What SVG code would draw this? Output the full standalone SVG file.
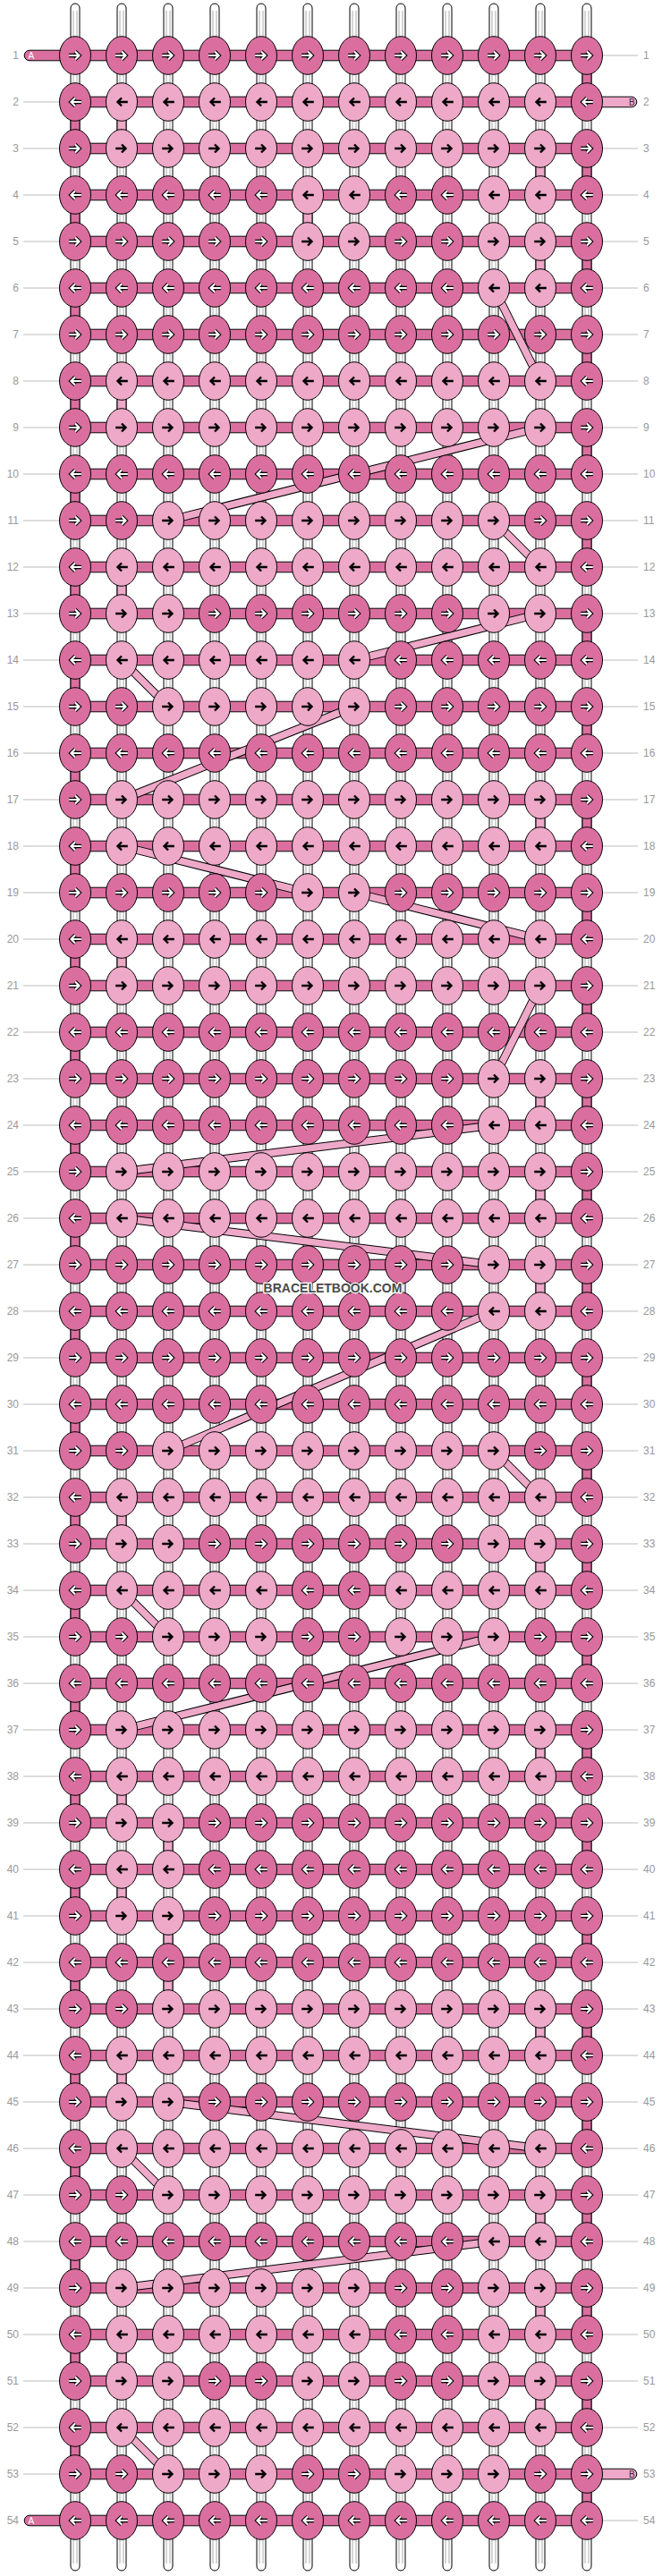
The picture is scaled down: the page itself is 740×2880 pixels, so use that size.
<svg xmlns="http://www.w3.org/2000/svg" xmlns:xlink="http://www.w3.org/1999/xlink" width="740" height="2880" viewBox="0 0 740 2880">
<style>
.lb{font-family:"Liberation Sans",Arial,sans-serif;font-size:12px;fill:#999}
.ll{stroke:#bbb;stroke-width:1;fill:none}
.st{fill:#fff;stroke:#000;stroke-width:1}
.sg{stroke:#aaa;stroke-width:1;fill:none}
.sd{fill:#DA6F9F;stroke:#000;stroke-width:1}
.sl{fill:#EEA8C8;stroke:#000;stroke-width:1}
.d{fill:#DA6F9F;stroke:#000;stroke-width:1}
.l{fill:#EEA8C8;stroke:#000;stroke-width:1}
.ao{stroke:#000;stroke-width:4.4;fill:none}
.aw{stroke:#fff;stroke-width:2.2;fill:none}
.ab{stroke:#000;stroke-width:2.4;fill:none}
.dgo{stroke:#000;stroke-width:9.5;fill:none}
.dgi{stroke:#EEA8C8;stroke-width:7.5;fill:none}
.tl{font-family:"Liberation Sans",Arial,sans-serif;font-size:10px}
.wm{font-family:"Liberation Sans",Arial,sans-serif;font-size:14px;font-weight:bold;fill:#4a4a4a;stroke:#fff;stroke-width:2.5;paint-order:stroke;stroke-linejoin:round}
</style>
<defs>
<path id="ar" d="M-6.8,0H4M0,-4.5L4.5,0L0,4.5"/>
<g id="DR"><ellipse class="d" rx="17.5" ry="21.3"/><use href="#ar" class="ao"/><use href="#ar" class="aw"/></g>
<g id="LR"><ellipse class="l" rx="17.5" ry="21.3"/><use href="#ar" class="ab"/></g>
<g id="DL"><ellipse class="d" rx="17.5" ry="21.3"/><g transform="scale(-1,1)"><use href="#ar" class="ao"/><use href="#ar" class="aw"/></g></g>
<g id="LL"><ellipse class="l" rx="17.5" ry="21.3"/><use href="#ar" class="ab" transform="scale(-1,1)"/></g>
<path id="dg" d="M552,322L604,426M604,478L188,582M552,582L604,634M604,686L396,738M136,738L188,790M396,790L136,894M136,946L344,998M396,998L604,1050M604,1102L552,1206M552,1258L136,1310M136,1362L552,1414M552,1466L188,1622M552,1622L604,1674M136,1778L188,1830M552,1830L136,1934M188,2350L604,2402M136,2402L188,2454M552,2506L136,2558M136,2714L188,2766"/>
</defs>
<rect width="740" height="2880" fill="#fff"/>
<g id="labels">
<path class="ll" d="M26,114H66M26,166H66M26,218H66M26,270H66M26,322H66M26,374H66M26,426H66M26,478H66M26,530H66M26,582H66M26,634H66M26,686H66M26,738H66M26,790H66M26,842H66M26,894H66M26,946H66M26,998H66M26,1050H66M26,1102H66M26,1154H66M26,1206H66M26,1258H66M26,1310H66M26,1362H66M26,1414H66M26,1466H66M26,1518H66M26,1570H66M26,1622H66M26,1674H66M26,1726H66M26,1778H66M26,1830H66M26,1882H66M26,1934H66M26,1986H66M26,2038H66M26,2090H66M26,2142H66M26,2194H66M26,2246H66M26,2298H66M26,2350H66M26,2402H66M26,2454H66M26,2506H66M26,2558H66M26,2610H66M26,2662H66M26,2714H66M26,2766H66"/>
<path class="ll" d="M674,62H713M674,166H713M674,218H713M674,270H713M674,322H713M674,374H713M674,426H713M674,478H713M674,530H713M674,582H713M674,634H713M674,686H713M674,738H713M674,790H713M674,842H713M674,894H713M674,946H713M674,998H713M674,1050H713M674,1102H713M674,1154H713M674,1206H713M674,1258H713M674,1310H713M674,1362H713M674,1414H713M674,1466H713M674,1518H713M674,1570H713M674,1622H713M674,1674H713M674,1726H713M674,1778H713M674,1830H713M674,1882H713M674,1934H713M674,1986H713M674,2038H713M674,2090H713M674,2142H713M674,2194H713M674,2246H713M674,2298H713M674,2350H713M674,2402H713M674,2454H713M674,2506H713M674,2558H713M674,2610H713M674,2662H713M674,2714H713M674,2818H713"/>
<g class="lb" text-anchor="end">
<text x="21" y="66">1</text><text x="21" y="118">2</text><text x="21" y="170">3</text><text x="21" y="222">4</text><text x="21" y="274">5</text><text x="21" y="326">6</text><text x="21" y="378">7</text><text x="21" y="430">8</text><text x="21" y="482">9</text><text x="21" y="534">10</text><text x="21" y="586">11</text><text x="21" y="638">12</text><text x="21" y="690">13</text><text x="21" y="742">14</text><text x="21" y="794">15</text><text x="21" y="846">16</text><text x="21" y="898">17</text><text x="21" y="950">18</text><text x="21" y="1002">19</text><text x="21" y="1054">20</text><text x="21" y="1106">21</text><text x="21" y="1158">22</text><text x="21" y="1210">23</text><text x="21" y="1262">24</text><text x="21" y="1314">25</text><text x="21" y="1366">26</text><text x="21" y="1418">27</text><text x="21" y="1470">28</text><text x="21" y="1522">29</text><text x="21" y="1574">30</text><text x="21" y="1626">31</text><text x="21" y="1678">32</text><text x="21" y="1730">33</text><text x="21" y="1782">34</text><text x="21" y="1834">35</text><text x="21" y="1886">36</text><text x="21" y="1938">37</text><text x="21" y="1990">38</text><text x="21" y="2042">39</text><text x="21" y="2094">40</text><text x="21" y="2146">41</text><text x="21" y="2198">42</text><text x="21" y="2250">43</text><text x="21" y="2302">44</text><text x="21" y="2354">45</text><text x="21" y="2406">46</text><text x="21" y="2458">47</text><text x="21" y="2510">48</text><text x="21" y="2562">49</text><text x="21" y="2614">50</text><text x="21" y="2666">51</text><text x="21" y="2718">52</text><text x="21" y="2770">53</text><text x="21" y="2822">54</text>
</g>
<g class="lb">
<text x="719" y="66">1</text><text x="719" y="118">2</text><text x="719" y="170">3</text><text x="719" y="222">4</text><text x="719" y="274">5</text><text x="719" y="326">6</text><text x="719" y="378">7</text><text x="719" y="430">8</text><text x="719" y="482">9</text><text x="719" y="534">10</text><text x="719" y="586">11</text><text x="719" y="638">12</text><text x="719" y="690">13</text><text x="719" y="742">14</text><text x="719" y="794">15</text><text x="719" y="846">16</text><text x="719" y="898">17</text><text x="719" y="950">18</text><text x="719" y="1002">19</text><text x="719" y="1054">20</text><text x="719" y="1106">21</text><text x="719" y="1158">22</text><text x="719" y="1210">23</text><text x="719" y="1262">24</text><text x="719" y="1314">25</text><text x="719" y="1366">26</text><text x="719" y="1418">27</text><text x="719" y="1470">28</text><text x="719" y="1522">29</text><text x="719" y="1574">30</text><text x="719" y="1626">31</text><text x="719" y="1678">32</text><text x="719" y="1730">33</text><text x="719" y="1782">34</text><text x="719" y="1834">35</text><text x="719" y="1886">36</text><text x="719" y="1938">37</text><text x="719" y="1990">38</text><text x="719" y="2042">39</text><text x="719" y="2094">40</text><text x="719" y="2146">41</text><text x="719" y="2198">42</text><text x="719" y="2250">43</text><text x="719" y="2302">44</text><text x="719" y="2354">45</text><text x="719" y="2406">46</text><text x="719" y="2458">47</text><text x="719" y="2510">48</text><text x="719" y="2562">49</text><text x="719" y="2614">50</text><text x="719" y="2666">51</text><text x="719" y="2718">52</text><text x="719" y="2770">53</text><text x="719" y="2822">54</text>
</g>
</g>
<g id="connectors">
<g id="base-strands">
<rect class="st" x="79" y="4" width="10" height="2870" rx="5"/><rect class="st" x="131" y="4" width="10" height="2870" rx="5"/><rect class="st" x="183" y="4" width="10" height="2870" rx="5"/><rect class="st" x="235" y="4" width="10" height="2870" rx="5"/><rect class="st" x="287" y="4" width="10" height="2870" rx="5"/><rect class="st" x="339" y="4" width="10" height="2870" rx="5"/><rect class="st" x="391" y="4" width="10" height="2870" rx="5"/><rect class="st" x="443" y="4" width="10" height="2870" rx="5"/><rect class="st" x="495" y="4" width="10" height="2870" rx="5"/><rect class="st" x="547" y="4" width="10" height="2870" rx="5"/><rect class="st" x="599" y="4" width="10" height="2870" rx="5"/><rect class="st" x="651" y="4" width="10" height="2870" rx="5"/>
<path class="sg" d="M82,12V2866M86,12V2866M134,12V2866M138,12V2866M186,12V2866M190,12V2866M238,12V2866M242,12V2866M290,12V2866M294,12V2866M342,12V2866M346,12V2866M394,12V2866M398,12V2866M446,12V2866M450,12V2866M498,12V2866M502,12V2866M550,12V2866M554,12V2866M602,12V2866M606,12V2866M654,12V2866M658,12V2866"/>
</g>
<g id="turns">
<path class="sd" d="M79,133h10v14h-10zM79,237h10v14h-10zM79,341h10v14h-10zM79,445h10v14h-10zM79,549h10v14h-10zM79,653h10v14h-10zM79,757h10v14h-10zM79,861h10v14h-10zM79,965h10v14h-10zM79,1069h10v14h-10zM79,1173h10v14h-10zM79,1277h10v14h-10zM79,1381h10v14h-10zM79,1485h10v14h-10zM79,1589h10v14h-10zM79,1693h10v14h-10zM79,1797h10v14h-10zM79,1901h10v14h-10zM79,2005h10v14h-10zM79,2109h10v14h-10zM79,2213h10v14h-10zM79,2317h10v14h-10zM79,2421h10v14h-10zM79,2525h10v14h-10zM79,2629h10v14h-10zM79,2733h10v14h-10z"/>
<path class="sd" d="M651,81h10v14h-10zM651,185h10v14h-10zM651,289h10v14h-10zM651,393h10v14h-10zM651,497h10v14h-10zM651,601h10v14h-10zM651,705h10v14h-10zM651,809h10v14h-10zM651,913h10v14h-10zM651,1017h10v14h-10zM651,1121h10v14h-10zM651,1225h10v14h-10zM651,1329h10v14h-10zM651,1433h10v14h-10zM651,1537h10v14h-10zM651,1641h10v14h-10zM651,1745h10v14h-10zM651,1849h10v14h-10zM651,1953h10v14h-10zM651,2057h10v14h-10zM651,2161h10v14h-10zM651,2265h10v14h-10zM651,2369h10v14h-10zM651,2473h10v14h-10zM651,2577h10v14h-10zM651,2681h10v14h-10zM651,2785h10v14h-10z"/>
<path class="sl" d="M131,133h10v14h-10zM599,185h10v14h-10zM339,237h10v14h-10zM599,289h10v14h-10zM131,445h10v14h-10zM131,653h10v14h-10zM599,913h10v14h-10zM131,1069h10v14h-10zM599,1225h10v14h-10zM599,1329h10v14h-10zM599,1433h10v14h-10zM131,1693h10v14h-10zM599,1745h10v14h-10zM599,1953h10v14h-10zM131,2005h10v14h-10zM183,2057h10v14h-10zM131,2109h10v14h-10zM183,2161h10v14h-10zM183,2213h10v14h-10zM599,2265h10v14h-10zM131,2317h10v14h-10zM599,2473h10v14h-10zM599,2577h10v14h-10zM131,2629h10v14h-10zM599,2681h10v14h-10z"/>
</g>
<g id="rows">
<path class="sd" d="M84,56.2h572v11.6h-572zM84,108.2h572v11.6h-572zM84,160.2h572v11.6h-572zM84,212.2h572v11.6h-572zM84,264.2h572v11.6h-572zM84,316.2h572v11.6h-572zM84,368.2h572v11.6h-572zM84,420.2h572v11.6h-572zM84,472.2h572v11.6h-572zM84,524.2h572v11.6h-572zM84,576.2h572v11.6h-572zM84,628.2h572v11.6h-572zM84,680.2h572v11.6h-572zM84,732.2h572v11.6h-572zM84,784.2h572v11.6h-572zM84,836.2h572v11.6h-572zM84,888.2h572v11.6h-572zM84,940.2h572v11.6h-572zM84,992.2h572v11.6h-572zM84,1044.2h572v11.6h-572zM84,1096.2h572v11.6h-572zM84,1148.2h572v11.6h-572zM84,1200.2h572v11.6h-572zM84,1252.2h572v11.6h-572zM84,1304.2h572v11.6h-572zM84,1356.2h572v11.6h-572zM84,1408.2h572v11.6h-572zM84,1460.2h572v11.6h-572zM84,1512.2h572v11.6h-572zM84,1564.2h572v11.6h-572zM84,1616.2h572v11.6h-572zM84,1668.2h572v11.6h-572zM84,1720.2h572v11.6h-572zM84,1772.2h572v11.6h-572zM84,1824.2h572v11.6h-572zM84,1876.2h572v11.6h-572zM84,1928.2h572v11.6h-572zM84,1980.2h572v11.6h-572zM84,2032.2h572v11.6h-572zM84,2084.2h572v11.6h-572zM84,2136.2h572v11.6h-572zM84,2188.2h572v11.6h-572zM84,2240.2h572v11.6h-572zM84,2292.2h572v11.6h-572zM84,2344.2h572v11.6h-572zM84,2396.2h572v11.6h-572zM84,2448.2h572v11.6h-572zM84,2500.2h572v11.6h-572zM84,2552.2h572v11.6h-572zM84,2604.2h572v11.6h-572zM84,2656.2h572v11.6h-572zM84,2708.2h572v11.6h-572zM84,2760.2h572v11.6h-572zM84,2812.2h572v11.6h-572z"/>
</g>
<g id="carries">
<use href="#dg" class="dgo"/><use href="#dg" class="dgi"/>
</g>
<g id="tails">
<path class="sd" d="M75,56.2H33a5.8,5.8 0 0 0 0,11.6H75z"/>
<text class="tl" x="31.5" y="66" fill="#fff">A</text>
<path class="sd" d="M75,2812.2H33a5.8,5.8 0 0 0 0,11.6H75z"/>
<text class="tl" x="31.5" y="2822" fill="#fff">A</text>
<path class="sl" d="M665,108.2H706a5.8,5.8 0 0 1 0,11.6H665z"/>
<text class="tl" x="703" y="118" fill="#333">B</text>
<path class="sl" d="M665,2760.2H706a5.8,5.8 0 0 1 0,11.6H665z"/>
<text class="tl" x="703" y="2770" fill="#333">B</text>
</g>
</g>
<g id="knots">
<g id="row1" transform="translate(0,62)"><g id="k1-1"><use href="#DR" x="84"/></g><g id="k1-2"><use href="#DR" x="136"/></g><g id="k1-3"><use href="#DR" x="188"/></g><g id="k1-4"><use href="#DR" x="240"/></g><g id="k1-5"><use href="#DR" x="292"/></g><g id="k1-6"><use href="#DR" x="344"/></g><g id="k1-7"><use href="#DR" x="396"/></g><g id="k1-8"><use href="#DR" x="448"/></g><g id="k1-9"><use href="#DR" x="500"/></g><g id="k1-10"><use href="#DR" x="552"/></g><g id="k1-11"><use href="#DR" x="604"/></g><g id="k1-12"><use href="#DR" x="656"/></g></g>
<g id="row2" transform="translate(0,114)"><g id="k2-1"><use href="#DL" x="84"/></g><g id="k2-2"><use href="#LL" x="136"/></g><g id="k2-3"><use href="#LL" x="188"/></g><g id="k2-4"><use href="#LL" x="240"/></g><g id="k2-5"><use href="#LL" x="292"/></g><g id="k2-6"><use href="#LL" x="344"/></g><g id="k2-7"><use href="#LL" x="396"/></g><g id="k2-8"><use href="#LL" x="448"/></g><g id="k2-9"><use href="#LL" x="500"/></g><g id="k2-10"><use href="#LL" x="552"/></g><g id="k2-11"><use href="#LL" x="604"/></g><g id="k2-12"><use href="#DL" x="656"/></g></g>
<g id="row3" transform="translate(0,166)"><g id="k3-1"><use href="#DR" x="84"/></g><g id="k3-2"><use href="#LR" x="136"/></g><g id="k3-3"><use href="#LR" x="188"/></g><g id="k3-4"><use href="#LR" x="240"/></g><g id="k3-5"><use href="#LR" x="292"/></g><g id="k3-6"><use href="#LR" x="344"/></g><g id="k3-7"><use href="#LR" x="396"/></g><g id="k3-8"><use href="#LR" x="448"/></g><g id="k3-9"><use href="#LR" x="500"/></g><g id="k3-10"><use href="#LR" x="552"/></g><g id="k3-11"><use href="#LR" x="604"/></g><g id="k3-12"><use href="#DR" x="656"/></g></g>
<g id="row4" transform="translate(0,218)"><g id="k4-1"><use href="#DL" x="84"/></g><g id="k4-2"><use href="#DL" x="136"/></g><g id="k4-3"><use href="#DL" x="188"/></g><g id="k4-4"><use href="#DL" x="240"/></g><g id="k4-5"><use href="#DL" x="292"/></g><g id="k4-6"><use href="#LL" x="344"/></g><g id="k4-7"><use href="#LL" x="396"/></g><g id="k4-8"><use href="#DL" x="448"/></g><g id="k4-9"><use href="#DL" x="500"/></g><g id="k4-10"><use href="#LL" x="552"/></g><g id="k4-11"><use href="#LL" x="604"/></g><g id="k4-12"><use href="#DL" x="656"/></g></g>
<g id="row5" transform="translate(0,270)"><g id="k5-1"><use href="#DR" x="84"/></g><g id="k5-2"><use href="#DR" x="136"/></g><g id="k5-3"><use href="#DR" x="188"/></g><g id="k5-4"><use href="#DR" x="240"/></g><g id="k5-5"><use href="#DR" x="292"/></g><g id="k5-6"><use href="#LR" x="344"/></g><g id="k5-7"><use href="#LR" x="396"/></g><g id="k5-8"><use href="#DR" x="448"/></g><g id="k5-9"><use href="#DR" x="500"/></g><g id="k5-10"><use href="#LR" x="552"/></g><g id="k5-11"><use href="#LR" x="604"/></g><g id="k5-12"><use href="#DR" x="656"/></g></g>
<g id="row6" transform="translate(0,322)"><g id="k6-1"><use href="#DL" x="84"/></g><g id="k6-2"><use href="#DL" x="136"/></g><g id="k6-3"><use href="#DL" x="188"/></g><g id="k6-4"><use href="#DL" x="240"/></g><g id="k6-5"><use href="#DL" x="292"/></g><g id="k6-6"><use href="#DL" x="344"/></g><g id="k6-7"><use href="#DL" x="396"/></g><g id="k6-8"><use href="#DL" x="448"/></g><g id="k6-9"><use href="#DL" x="500"/></g><g id="k6-10"><use href="#LL" x="552"/></g><g id="k6-11"><use href="#LL" x="604"/></g><g id="k6-12"><use href="#DL" x="656"/></g></g>
<g id="row7" transform="translate(0,374)"><g id="k7-1"><use href="#DR" x="84"/></g><g id="k7-2"><use href="#DR" x="136"/></g><g id="k7-3"><use href="#DR" x="188"/></g><g id="k7-4"><use href="#DR" x="240"/></g><g id="k7-5"><use href="#DR" x="292"/></g><g id="k7-6"><use href="#DR" x="344"/></g><g id="k7-7"><use href="#DR" x="396"/></g><g id="k7-8"><use href="#DR" x="448"/></g><g id="k7-9"><use href="#DR" x="500"/></g><g id="k7-10"><use href="#DR" x="552"/></g><g id="k7-11"><use href="#DR" x="604"/></g><g id="k7-12"><use href="#DR" x="656"/></g></g>
<g id="row8" transform="translate(0,426)"><g id="k8-1"><use href="#DL" x="84"/></g><g id="k8-2"><use href="#LL" x="136"/></g><g id="k8-3"><use href="#LL" x="188"/></g><g id="k8-4"><use href="#LL" x="240"/></g><g id="k8-5"><use href="#LL" x="292"/></g><g id="k8-6"><use href="#LL" x="344"/></g><g id="k8-7"><use href="#LL" x="396"/></g><g id="k8-8"><use href="#LL" x="448"/></g><g id="k8-9"><use href="#LL" x="500"/></g><g id="k8-10"><use href="#LL" x="552"/></g><g id="k8-11"><use href="#LL" x="604"/></g><g id="k8-12"><use href="#DL" x="656"/></g></g>
<g id="row9" transform="translate(0,478)"><g id="k9-1"><use href="#DR" x="84"/></g><g id="k9-2"><use href="#LR" x="136"/></g><g id="k9-3"><use href="#LR" x="188"/></g><g id="k9-4"><use href="#LR" x="240"/></g><g id="k9-5"><use href="#LR" x="292"/></g><g id="k9-6"><use href="#LR" x="344"/></g><g id="k9-7"><use href="#LR" x="396"/></g><g id="k9-8"><use href="#LR" x="448"/></g><g id="k9-9"><use href="#LR" x="500"/></g><g id="k9-10"><use href="#LR" x="552"/></g><g id="k9-11"><use href="#LR" x="604"/></g><g id="k9-12"><use href="#DR" x="656"/></g></g>
<g id="row10" transform="translate(0,530)"><g id="k10-1"><use href="#DL" x="84"/></g><g id="k10-2"><use href="#DL" x="136"/></g><g id="k10-3"><use href="#DL" x="188"/></g><g id="k10-4"><use href="#DL" x="240"/></g><g id="k10-5"><use href="#DL" x="292"/></g><g id="k10-6"><use href="#DL" x="344"/></g><g id="k10-7"><use href="#DL" x="396"/></g><g id="k10-8"><use href="#DL" x="448"/></g><g id="k10-9"><use href="#DL" x="500"/></g><g id="k10-10"><use href="#DL" x="552"/></g><g id="k10-11"><use href="#DL" x="604"/></g><g id="k10-12"><use href="#DL" x="656"/></g></g>
<g id="row11" transform="translate(0,582)"><g id="k11-1"><use href="#DR" x="84"/></g><g id="k11-2"><use href="#DR" x="136"/></g><g id="k11-3"><use href="#LR" x="188"/></g><g id="k11-4"><use href="#LR" x="240"/></g><g id="k11-5"><use href="#LR" x="292"/></g><g id="k11-6"><use href="#LR" x="344"/></g><g id="k11-7"><use href="#LR" x="396"/></g><g id="k11-8"><use href="#LR" x="448"/></g><g id="k11-9"><use href="#LR" x="500"/></g><g id="k11-10"><use href="#LR" x="552"/></g><g id="k11-11"><use href="#DR" x="604"/></g><g id="k11-12"><use href="#DR" x="656"/></g></g>
<g id="row12" transform="translate(0,634)"><g id="k12-1"><use href="#DL" x="84"/></g><g id="k12-2"><use href="#LL" x="136"/></g><g id="k12-3"><use href="#LL" x="188"/></g><g id="k12-4"><use href="#LL" x="240"/></g><g id="k12-5"><use href="#LL" x="292"/></g><g id="k12-6"><use href="#LL" x="344"/></g><g id="k12-7"><use href="#LL" x="396"/></g><g id="k12-8"><use href="#LL" x="448"/></g><g id="k12-9"><use href="#LL" x="500"/></g><g id="k12-10"><use href="#LL" x="552"/></g><g id="k12-11"><use href="#LL" x="604"/></g><g id="k12-12"><use href="#DL" x="656"/></g></g>
<g id="row13" transform="translate(0,686)"><g id="k13-1"><use href="#DR" x="84"/></g><g id="k13-2"><use href="#LR" x="136"/></g><g id="k13-3"><use href="#LR" x="188"/></g><g id="k13-4"><use href="#DR" x="240"/></g><g id="k13-5"><use href="#DR" x="292"/></g><g id="k13-6"><use href="#DR" x="344"/></g><g id="k13-7"><use href="#DR" x="396"/></g><g id="k13-8"><use href="#DR" x="448"/></g><g id="k13-9"><use href="#DR" x="500"/></g><g id="k13-10"><use href="#LR" x="552"/></g><g id="k13-11"><use href="#LR" x="604"/></g><g id="k13-12"><use href="#DR" x="656"/></g></g>
<g id="row14" transform="translate(0,738)"><g id="k14-1"><use href="#DL" x="84"/></g><g id="k14-2"><use href="#LL" x="136"/></g><g id="k14-3"><use href="#LL" x="188"/></g><g id="k14-4"><use href="#LL" x="240"/></g><g id="k14-5"><use href="#LL" x="292"/></g><g id="k14-6"><use href="#LL" x="344"/></g><g id="k14-7"><use href="#LL" x="396"/></g><g id="k14-8"><use href="#DL" x="448"/></g><g id="k14-9"><use href="#DL" x="500"/></g><g id="k14-10"><use href="#DL" x="552"/></g><g id="k14-11"><use href="#DL" x="604"/></g><g id="k14-12"><use href="#DL" x="656"/></g></g>
<g id="row15" transform="translate(0,790)"><g id="k15-1"><use href="#DR" x="84"/></g><g id="k15-2"><use href="#DR" x="136"/></g><g id="k15-3"><use href="#LR" x="188"/></g><g id="k15-4"><use href="#LR" x="240"/></g><g id="k15-5"><use href="#LR" x="292"/></g><g id="k15-6"><use href="#LR" x="344"/></g><g id="k15-7"><use href="#LR" x="396"/></g><g id="k15-8"><use href="#DR" x="448"/></g><g id="k15-9"><use href="#DR" x="500"/></g><g id="k15-10"><use href="#DR" x="552"/></g><g id="k15-11"><use href="#DR" x="604"/></g><g id="k15-12"><use href="#DR" x="656"/></g></g>
<g id="row16" transform="translate(0,842)"><g id="k16-1"><use href="#DL" x="84"/></g><g id="k16-2"><use href="#DL" x="136"/></g><g id="k16-3"><use href="#DL" x="188"/></g><g id="k16-4"><use href="#DL" x="240"/></g><g id="k16-5"><use href="#DL" x="292"/></g><g id="k16-6"><use href="#DL" x="344"/></g><g id="k16-7"><use href="#DL" x="396"/></g><g id="k16-8"><use href="#DL" x="448"/></g><g id="k16-9"><use href="#DL" x="500"/></g><g id="k16-10"><use href="#DL" x="552"/></g><g id="k16-11"><use href="#DL" x="604"/></g><g id="k16-12"><use href="#DL" x="656"/></g></g>
<g id="row17" transform="translate(0,894)"><g id="k17-1"><use href="#DR" x="84"/></g><g id="k17-2"><use href="#LR" x="136"/></g><g id="k17-3"><use href="#LR" x="188"/></g><g id="k17-4"><use href="#LR" x="240"/></g><g id="k17-5"><use href="#LR" x="292"/></g><g id="k17-6"><use href="#LR" x="344"/></g><g id="k17-7"><use href="#LR" x="396"/></g><g id="k17-8"><use href="#LR" x="448"/></g><g id="k17-9"><use href="#LR" x="500"/></g><g id="k17-10"><use href="#LR" x="552"/></g><g id="k17-11"><use href="#LR" x="604"/></g><g id="k17-12"><use href="#DR" x="656"/></g></g>
<g id="row18" transform="translate(0,946)"><g id="k18-1"><use href="#DL" x="84"/></g><g id="k18-2"><use href="#LL" x="136"/></g><g id="k18-3"><use href="#LL" x="188"/></g><g id="k18-4"><use href="#LL" x="240"/></g><g id="k18-5"><use href="#LL" x="292"/></g><g id="k18-6"><use href="#LL" x="344"/></g><g id="k18-7"><use href="#LL" x="396"/></g><g id="k18-8"><use href="#LL" x="448"/></g><g id="k18-9"><use href="#LL" x="500"/></g><g id="k18-10"><use href="#LL" x="552"/></g><g id="k18-11"><use href="#LL" x="604"/></g><g id="k18-12"><use href="#DL" x="656"/></g></g>
<g id="row19" transform="translate(0,998)"><g id="k19-1"><use href="#DR" x="84"/></g><g id="k19-2"><use href="#DR" x="136"/></g><g id="k19-3"><use href="#DR" x="188"/></g><g id="k19-4"><use href="#DR" x="240"/></g><g id="k19-5"><use href="#DR" x="292"/></g><g id="k19-6"><use href="#LR" x="344"/></g><g id="k19-7"><use href="#LR" x="396"/></g><g id="k19-8"><use href="#DR" x="448"/></g><g id="k19-9"><use href="#DR" x="500"/></g><g id="k19-10"><use href="#DR" x="552"/></g><g id="k19-11"><use href="#DR" x="604"/></g><g id="k19-12"><use href="#DR" x="656"/></g></g>
<g id="row20" transform="translate(0,1050)"><g id="k20-1"><use href="#DL" x="84"/></g><g id="k20-2"><use href="#LL" x="136"/></g><g id="k20-3"><use href="#LL" x="188"/></g><g id="k20-4"><use href="#LL" x="240"/></g><g id="k20-5"><use href="#LL" x="292"/></g><g id="k20-6"><use href="#LL" x="344"/></g><g id="k20-7"><use href="#LL" x="396"/></g><g id="k20-8"><use href="#LL" x="448"/></g><g id="k20-9"><use href="#LL" x="500"/></g><g id="k20-10"><use href="#LL" x="552"/></g><g id="k20-11"><use href="#LL" x="604"/></g><g id="k20-12"><use href="#DL" x="656"/></g></g>
<g id="row21" transform="translate(0,1102)"><g id="k21-1"><use href="#DR" x="84"/></g><g id="k21-2"><use href="#LR" x="136"/></g><g id="k21-3"><use href="#LR" x="188"/></g><g id="k21-4"><use href="#LR" x="240"/></g><g id="k21-5"><use href="#LR" x="292"/></g><g id="k21-6"><use href="#LR" x="344"/></g><g id="k21-7"><use href="#LR" x="396"/></g><g id="k21-8"><use href="#LR" x="448"/></g><g id="k21-9"><use href="#LR" x="500"/></g><g id="k21-10"><use href="#LR" x="552"/></g><g id="k21-11"><use href="#LR" x="604"/></g><g id="k21-12"><use href="#DR" x="656"/></g></g>
<g id="row22" transform="translate(0,1154)"><g id="k22-1"><use href="#DL" x="84"/></g><g id="k22-2"><use href="#DL" x="136"/></g><g id="k22-3"><use href="#DL" x="188"/></g><g id="k22-4"><use href="#DL" x="240"/></g><g id="k22-5"><use href="#DL" x="292"/></g><g id="k22-6"><use href="#DL" x="344"/></g><g id="k22-7"><use href="#DL" x="396"/></g><g id="k22-8"><use href="#DL" x="448"/></g><g id="k22-9"><use href="#DL" x="500"/></g><g id="k22-10"><use href="#DL" x="552"/></g><g id="k22-11"><use href="#DL" x="604"/></g><g id="k22-12"><use href="#DL" x="656"/></g></g>
<g id="row23" transform="translate(0,1206)"><g id="k23-1"><use href="#DR" x="84"/></g><g id="k23-2"><use href="#DR" x="136"/></g><g id="k23-3"><use href="#DR" x="188"/></g><g id="k23-4"><use href="#DR" x="240"/></g><g id="k23-5"><use href="#DR" x="292"/></g><g id="k23-6"><use href="#DR" x="344"/></g><g id="k23-7"><use href="#DR" x="396"/></g><g id="k23-8"><use href="#DR" x="448"/></g><g id="k23-9"><use href="#DR" x="500"/></g><g id="k23-10"><use href="#LR" x="552"/></g><g id="k23-11"><use href="#LR" x="604"/></g><g id="k23-12"><use href="#DR" x="656"/></g></g>
<g id="row24" transform="translate(0,1258)"><g id="k24-1"><use href="#DL" x="84"/></g><g id="k24-2"><use href="#DL" x="136"/></g><g id="k24-3"><use href="#DL" x="188"/></g><g id="k24-4"><use href="#DL" x="240"/></g><g id="k24-5"><use href="#DL" x="292"/></g><g id="k24-6"><use href="#DL" x="344"/></g><g id="k24-7"><use href="#DL" x="396"/></g><g id="k24-8"><use href="#DL" x="448"/></g><g id="k24-9"><use href="#DL" x="500"/></g><g id="k24-10"><use href="#LL" x="552"/></g><g id="k24-11"><use href="#LL" x="604"/></g><g id="k24-12"><use href="#DL" x="656"/></g></g>
<g id="row25" transform="translate(0,1310)"><g id="k25-1"><use href="#DR" x="84"/></g><g id="k25-2"><use href="#LR" x="136"/></g><g id="k25-3"><use href="#LR" x="188"/></g><g id="k25-4"><use href="#LR" x="240"/></g><g id="k25-5"><use href="#LR" x="292"/></g><g id="k25-6"><use href="#LR" x="344"/></g><g id="k25-7"><use href="#LR" x="396"/></g><g id="k25-8"><use href="#LR" x="448"/></g><g id="k25-9"><use href="#LR" x="500"/></g><g id="k25-10"><use href="#LR" x="552"/></g><g id="k25-11"><use href="#LR" x="604"/></g><g id="k25-12"><use href="#DR" x="656"/></g></g>
<g id="row26" transform="translate(0,1362)"><g id="k26-1"><use href="#DL" x="84"/></g><g id="k26-2"><use href="#LL" x="136"/></g><g id="k26-3"><use href="#LL" x="188"/></g><g id="k26-4"><use href="#LL" x="240"/></g><g id="k26-5"><use href="#LL" x="292"/></g><g id="k26-6"><use href="#LL" x="344"/></g><g id="k26-7"><use href="#LL" x="396"/></g><g id="k26-8"><use href="#LL" x="448"/></g><g id="k26-9"><use href="#LL" x="500"/></g><g id="k26-10"><use href="#LL" x="552"/></g><g id="k26-11"><use href="#LL" x="604"/></g><g id="k26-12"><use href="#DL" x="656"/></g></g>
<g id="row27" transform="translate(0,1414)"><g id="k27-1"><use href="#DR" x="84"/></g><g id="k27-2"><use href="#DR" x="136"/></g><g id="k27-3"><use href="#DR" x="188"/></g><g id="k27-4"><use href="#DR" x="240"/></g><g id="k27-5"><use href="#DR" x="292"/></g><g id="k27-6"><use href="#DR" x="344"/></g><g id="k27-7"><use href="#DR" x="396"/></g><g id="k27-8"><use href="#DR" x="448"/></g><g id="k27-9"><use href="#DR" x="500"/></g><g id="k27-10"><use href="#LR" x="552"/></g><g id="k27-11"><use href="#LR" x="604"/></g><g id="k27-12"><use href="#DR" x="656"/></g></g>
<g id="row28" transform="translate(0,1466)"><g id="k28-1"><use href="#DL" x="84"/></g><g id="k28-2"><use href="#DL" x="136"/></g><g id="k28-3"><use href="#DL" x="188"/></g><g id="k28-4"><use href="#DL" x="240"/></g><g id="k28-5"><use href="#DL" x="292"/></g><g id="k28-6"><use href="#DL" x="344"/></g><g id="k28-7"><use href="#DL" x="396"/></g><g id="k28-8"><use href="#DL" x="448"/></g><g id="k28-9"><use href="#DL" x="500"/></g><g id="k28-10"><use href="#LL" x="552"/></g><g id="k28-11"><use href="#LL" x="604"/></g><g id="k28-12"><use href="#DL" x="656"/></g></g>
<g id="row29" transform="translate(0,1518)"><g id="k29-1"><use href="#DR" x="84"/></g><g id="k29-2"><use href="#DR" x="136"/></g><g id="k29-3"><use href="#DR" x="188"/></g><g id="k29-4"><use href="#DR" x="240"/></g><g id="k29-5"><use href="#DR" x="292"/></g><g id="k29-6"><use href="#DR" x="344"/></g><g id="k29-7"><use href="#DR" x="396"/></g><g id="k29-8"><use href="#DR" x="448"/></g><g id="k29-9"><use href="#DR" x="500"/></g><g id="k29-10"><use href="#DR" x="552"/></g><g id="k29-11"><use href="#DR" x="604"/></g><g id="k29-12"><use href="#DR" x="656"/></g></g>
<g id="row30" transform="translate(0,1570)"><g id="k30-1"><use href="#DL" x="84"/></g><g id="k30-2"><use href="#DL" x="136"/></g><g id="k30-3"><use href="#DL" x="188"/></g><g id="k30-4"><use href="#DL" x="240"/></g><g id="k30-5"><use href="#DL" x="292"/></g><g id="k30-6"><use href="#DL" x="344"/></g><g id="k30-7"><use href="#DL" x="396"/></g><g id="k30-8"><use href="#DL" x="448"/></g><g id="k30-9"><use href="#DL" x="500"/></g><g id="k30-10"><use href="#DL" x="552"/></g><g id="k30-11"><use href="#DL" x="604"/></g><g id="k30-12"><use href="#DL" x="656"/></g></g>
<g id="row31" transform="translate(0,1622)"><g id="k31-1"><use href="#DR" x="84"/></g><g id="k31-2"><use href="#DR" x="136"/></g><g id="k31-3"><use href="#LR" x="188"/></g><g id="k31-4"><use href="#LR" x="240"/></g><g id="k31-5"><use href="#LR" x="292"/></g><g id="k31-6"><use href="#LR" x="344"/></g><g id="k31-7"><use href="#LR" x="396"/></g><g id="k31-8"><use href="#LR" x="448"/></g><g id="k31-9"><use href="#LR" x="500"/></g><g id="k31-10"><use href="#LR" x="552"/></g><g id="k31-11"><use href="#DR" x="604"/></g><g id="k31-12"><use href="#DR" x="656"/></g></g>
<g id="row32" transform="translate(0,1674)"><g id="k32-1"><use href="#DL" x="84"/></g><g id="k32-2"><use href="#LL" x="136"/></g><g id="k32-3"><use href="#LL" x="188"/></g><g id="k32-4"><use href="#LL" x="240"/></g><g id="k32-5"><use href="#LL" x="292"/></g><g id="k32-6"><use href="#LL" x="344"/></g><g id="k32-7"><use href="#LL" x="396"/></g><g id="k32-8"><use href="#LL" x="448"/></g><g id="k32-9"><use href="#LL" x="500"/></g><g id="k32-10"><use href="#LL" x="552"/></g><g id="k32-11"><use href="#LL" x="604"/></g><g id="k32-12"><use href="#DL" x="656"/></g></g>
<g id="row33" transform="translate(0,1726)"><g id="k33-1"><use href="#DR" x="84"/></g><g id="k33-2"><use href="#LR" x="136"/></g><g id="k33-3"><use href="#LR" x="188"/></g><g id="k33-4"><use href="#DR" x="240"/></g><g id="k33-5"><use href="#DR" x="292"/></g><g id="k33-6"><use href="#DR" x="344"/></g><g id="k33-7"><use href="#DR" x="396"/></g><g id="k33-8"><use href="#DR" x="448"/></g><g id="k33-9"><use href="#DR" x="500"/></g><g id="k33-10"><use href="#LR" x="552"/></g><g id="k33-11"><use href="#LR" x="604"/></g><g id="k33-12"><use href="#DR" x="656"/></g></g>
<g id="row34" transform="translate(0,1778)"><g id="k34-1"><use href="#DL" x="84"/></g><g id="k34-2"><use href="#LL" x="136"/></g><g id="k34-3"><use href="#LL" x="188"/></g><g id="k34-4"><use href="#LL" x="240"/></g><g id="k34-5"><use href="#LL" x="292"/></g><g id="k34-6"><use href="#DL" x="344"/></g><g id="k34-7"><use href="#DL" x="396"/></g><g id="k34-8"><use href="#LL" x="448"/></g><g id="k34-9"><use href="#LL" x="500"/></g><g id="k34-10"><use href="#LL" x="552"/></g><g id="k34-11"><use href="#LL" x="604"/></g><g id="k34-12"><use href="#DL" x="656"/></g></g>
<g id="row35" transform="translate(0,1830)"><g id="k35-1"><use href="#DR" x="84"/></g><g id="k35-2"><use href="#DR" x="136"/></g><g id="k35-3"><use href="#LR" x="188"/></g><g id="k35-4"><use href="#LR" x="240"/></g><g id="k35-5"><use href="#LR" x="292"/></g><g id="k35-6"><use href="#DR" x="344"/></g><g id="k35-7"><use href="#DR" x="396"/></g><g id="k35-8"><use href="#LR" x="448"/></g><g id="k35-9"><use href="#LR" x="500"/></g><g id="k35-10"><use href="#LR" x="552"/></g><g id="k35-11"><use href="#DR" x="604"/></g><g id="k35-12"><use href="#DR" x="656"/></g></g>
<g id="row36" transform="translate(0,1882)"><g id="k36-1"><use href="#DL" x="84"/></g><g id="k36-2"><use href="#DL" x="136"/></g><g id="k36-3"><use href="#DL" x="188"/></g><g id="k36-4"><use href="#DL" x="240"/></g><g id="k36-5"><use href="#DL" x="292"/></g><g id="k36-6"><use href="#DL" x="344"/></g><g id="k36-7"><use href="#DL" x="396"/></g><g id="k36-8"><use href="#DL" x="448"/></g><g id="k36-9"><use href="#DL" x="500"/></g><g id="k36-10"><use href="#DL" x="552"/></g><g id="k36-11"><use href="#DL" x="604"/></g><g id="k36-12"><use href="#DL" x="656"/></g></g>
<g id="row37" transform="translate(0,1934)"><g id="k37-1"><use href="#DR" x="84"/></g><g id="k37-2"><use href="#LR" x="136"/></g><g id="k37-3"><use href="#LR" x="188"/></g><g id="k37-4"><use href="#LR" x="240"/></g><g id="k37-5"><use href="#LR" x="292"/></g><g id="k37-6"><use href="#LR" x="344"/></g><g id="k37-7"><use href="#LR" x="396"/></g><g id="k37-8"><use href="#LR" x="448"/></g><g id="k37-9"><use href="#LR" x="500"/></g><g id="k37-10"><use href="#LR" x="552"/></g><g id="k37-11"><use href="#LR" x="604"/></g><g id="k37-12"><use href="#DR" x="656"/></g></g>
<g id="row38" transform="translate(0,1986)"><g id="k38-1"><use href="#DL" x="84"/></g><g id="k38-2"><use href="#LL" x="136"/></g><g id="k38-3"><use href="#LL" x="188"/></g><g id="k38-4"><use href="#LL" x="240"/></g><g id="k38-5"><use href="#LL" x="292"/></g><g id="k38-6"><use href="#LL" x="344"/></g><g id="k38-7"><use href="#LL" x="396"/></g><g id="k38-8"><use href="#LL" x="448"/></g><g id="k38-9"><use href="#LL" x="500"/></g><g id="k38-10"><use href="#LL" x="552"/></g><g id="k38-11"><use href="#LL" x="604"/></g><g id="k38-12"><use href="#DL" x="656"/></g></g>
<g id="row39" transform="translate(0,2038)"><g id="k39-1"><use href="#DR" x="84"/></g><g id="k39-2"><use href="#LR" x="136"/></g><g id="k39-3"><use href="#LR" x="188"/></g><g id="k39-4"><use href="#DR" x="240"/></g><g id="k39-5"><use href="#DR" x="292"/></g><g id="k39-6"><use href="#DR" x="344"/></g><g id="k39-7"><use href="#DR" x="396"/></g><g id="k39-8"><use href="#DR" x="448"/></g><g id="k39-9"><use href="#DR" x="500"/></g><g id="k39-10"><use href="#DR" x="552"/></g><g id="k39-11"><use href="#DR" x="604"/></g><g id="k39-12"><use href="#DR" x="656"/></g></g>
<g id="row40" transform="translate(0,2090)"><g id="k40-1"><use href="#DL" x="84"/></g><g id="k40-2"><use href="#LL" x="136"/></g><g id="k40-3"><use href="#LL" x="188"/></g><g id="k40-4"><use href="#DL" x="240"/></g><g id="k40-5"><use href="#DL" x="292"/></g><g id="k40-6"><use href="#DL" x="344"/></g><g id="k40-7"><use href="#DL" x="396"/></g><g id="k40-8"><use href="#DL" x="448"/></g><g id="k40-9"><use href="#DL" x="500"/></g><g id="k40-10"><use href="#DL" x="552"/></g><g id="k40-11"><use href="#DL" x="604"/></g><g id="k40-12"><use href="#DL" x="656"/></g></g>
<g id="row41" transform="translate(0,2142)"><g id="k41-1"><use href="#DR" x="84"/></g><g id="k41-2"><use href="#LR" x="136"/></g><g id="k41-3"><use href="#LR" x="188"/></g><g id="k41-4"><use href="#DR" x="240"/></g><g id="k41-5"><use href="#DR" x="292"/></g><g id="k41-6"><use href="#DR" x="344"/></g><g id="k41-7"><use href="#DR" x="396"/></g><g id="k41-8"><use href="#DR" x="448"/></g><g id="k41-9"><use href="#DR" x="500"/></g><g id="k41-10"><use href="#DR" x="552"/></g><g id="k41-11"><use href="#DR" x="604"/></g><g id="k41-12"><use href="#DR" x="656"/></g></g>
<g id="row42" transform="translate(0,2194)"><g id="k42-1"><use href="#DL" x="84"/></g><g id="k42-2"><use href="#DL" x="136"/></g><g id="k42-3"><use href="#DL" x="188"/></g><g id="k42-4"><use href="#DL" x="240"/></g><g id="k42-5"><use href="#DL" x="292"/></g><g id="k42-6"><use href="#DL" x="344"/></g><g id="k42-7"><use href="#DL" x="396"/></g><g id="k42-8"><use href="#DL" x="448"/></g><g id="k42-9"><use href="#DL" x="500"/></g><g id="k42-10"><use href="#DL" x="552"/></g><g id="k42-11"><use href="#DL" x="604"/></g><g id="k42-12"><use href="#DL" x="656"/></g></g>
<g id="row43" transform="translate(0,2246)"><g id="k43-1"><use href="#DR" x="84"/></g><g id="k43-2"><use href="#DR" x="136"/></g><g id="k43-3"><use href="#LR" x="188"/></g><g id="k43-4"><use href="#LR" x="240"/></g><g id="k43-5"><use href="#LR" x="292"/></g><g id="k43-6"><use href="#LR" x="344"/></g><g id="k43-7"><use href="#LR" x="396"/></g><g id="k43-8"><use href="#LR" x="448"/></g><g id="k43-9"><use href="#LR" x="500"/></g><g id="k43-10"><use href="#LR" x="552"/></g><g id="k43-11"><use href="#LR" x="604"/></g><g id="k43-12"><use href="#DR" x="656"/></g></g>
<g id="row44" transform="translate(0,2298)"><g id="k44-1"><use href="#DL" x="84"/></g><g id="k44-2"><use href="#LL" x="136"/></g><g id="k44-3"><use href="#LL" x="188"/></g><g id="k44-4"><use href="#LL" x="240"/></g><g id="k44-5"><use href="#LL" x="292"/></g><g id="k44-6"><use href="#LL" x="344"/></g><g id="k44-7"><use href="#LL" x="396"/></g><g id="k44-8"><use href="#LL" x="448"/></g><g id="k44-9"><use href="#LL" x="500"/></g><g id="k44-10"><use href="#LL" x="552"/></g><g id="k44-11"><use href="#LL" x="604"/></g><g id="k44-12"><use href="#DL" x="656"/></g></g>
<g id="row45" transform="translate(0,2350)"><g id="k45-1"><use href="#DR" x="84"/></g><g id="k45-2"><use href="#LR" x="136"/></g><g id="k45-3"><use href="#LR" x="188"/></g><g id="k45-4"><use href="#DR" x="240"/></g><g id="k45-5"><use href="#DR" x="292"/></g><g id="k45-6"><use href="#DR" x="344"/></g><g id="k45-7"><use href="#DR" x="396"/></g><g id="k45-8"><use href="#DR" x="448"/></g><g id="k45-9"><use href="#DR" x="500"/></g><g id="k45-10"><use href="#DR" x="552"/></g><g id="k45-11"><use href="#DR" x="604"/></g><g id="k45-12"><use href="#DR" x="656"/></g></g>
<g id="row46" transform="translate(0,2402)"><g id="k46-1"><use href="#DL" x="84"/></g><g id="k46-2"><use href="#LL" x="136"/></g><g id="k46-3"><use href="#LL" x="188"/></g><g id="k46-4"><use href="#LL" x="240"/></g><g id="k46-5"><use href="#LL" x="292"/></g><g id="k46-6"><use href="#LL" x="344"/></g><g id="k46-7"><use href="#LL" x="396"/></g><g id="k46-8"><use href="#LL" x="448"/></g><g id="k46-9"><use href="#LL" x="500"/></g><g id="k46-10"><use href="#LL" x="552"/></g><g id="k46-11"><use href="#LL" x="604"/></g><g id="k46-12"><use href="#DL" x="656"/></g></g>
<g id="row47" transform="translate(0,2454)"><g id="k47-1"><use href="#DR" x="84"/></g><g id="k47-2"><use href="#DR" x="136"/></g><g id="k47-3"><use href="#LR" x="188"/></g><g id="k47-4"><use href="#LR" x="240"/></g><g id="k47-5"><use href="#LR" x="292"/></g><g id="k47-6"><use href="#LR" x="344"/></g><g id="k47-7"><use href="#LR" x="396"/></g><g id="k47-8"><use href="#LR" x="448"/></g><g id="k47-9"><use href="#LR" x="500"/></g><g id="k47-10"><use href="#LR" x="552"/></g><g id="k47-11"><use href="#LR" x="604"/></g><g id="k47-12"><use href="#DR" x="656"/></g></g>
<g id="row48" transform="translate(0,2506)"><g id="k48-1"><use href="#DL" x="84"/></g><g id="k48-2"><use href="#DL" x="136"/></g><g id="k48-3"><use href="#DL" x="188"/></g><g id="k48-4"><use href="#DL" x="240"/></g><g id="k48-5"><use href="#DL" x="292"/></g><g id="k48-6"><use href="#DL" x="344"/></g><g id="k48-7"><use href="#DL" x="396"/></g><g id="k48-8"><use href="#DL" x="448"/></g><g id="k48-9"><use href="#DL" x="500"/></g><g id="k48-10"><use href="#LL" x="552"/></g><g id="k48-11"><use href="#LL" x="604"/></g><g id="k48-12"><use href="#DL" x="656"/></g></g>
<g id="row49" transform="translate(0,2558)"><g id="k49-1"><use href="#DR" x="84"/></g><g id="k49-2"><use href="#LR" x="136"/></g><g id="k49-3"><use href="#LR" x="188"/></g><g id="k49-4"><use href="#LR" x="240"/></g><g id="k49-5"><use href="#LR" x="292"/></g><g id="k49-6"><use href="#LR" x="344"/></g><g id="k49-7"><use href="#LR" x="396"/></g><g id="k49-8"><use href="#DR" x="448"/></g><g id="k49-9"><use href="#DR" x="500"/></g><g id="k49-10"><use href="#LR" x="552"/></g><g id="k49-11"><use href="#LR" x="604"/></g><g id="k49-12"><use href="#DR" x="656"/></g></g>
<g id="row50" transform="translate(0,2610)"><g id="k50-1"><use href="#DL" x="84"/></g><g id="k50-2"><use href="#LL" x="136"/></g><g id="k50-3"><use href="#LL" x="188"/></g><g id="k50-4"><use href="#LL" x="240"/></g><g id="k50-5"><use href="#LL" x="292"/></g><g id="k50-6"><use href="#LL" x="344"/></g><g id="k50-7"><use href="#LL" x="396"/></g><g id="k50-8"><use href="#DL" x="448"/></g><g id="k50-9"><use href="#DL" x="500"/></g><g id="k50-10"><use href="#LL" x="552"/></g><g id="k50-11"><use href="#LL" x="604"/></g><g id="k50-12"><use href="#DL" x="656"/></g></g>
<g id="row51" transform="translate(0,2662)"><g id="k51-1"><use href="#DR" x="84"/></g><g id="k51-2"><use href="#LR" x="136"/></g><g id="k51-3"><use href="#LR" x="188"/></g><g id="k51-4"><use href="#DR" x="240"/></g><g id="k51-5"><use href="#DR" x="292"/></g><g id="k51-6"><use href="#LR" x="344"/></g><g id="k51-7"><use href="#LR" x="396"/></g><g id="k51-8"><use href="#DR" x="448"/></g><g id="k51-9"><use href="#DR" x="500"/></g><g id="k51-10"><use href="#LR" x="552"/></g><g id="k51-11"><use href="#LR" x="604"/></g><g id="k51-12"><use href="#DR" x="656"/></g></g>
<g id="row52" transform="translate(0,2714)"><g id="k52-1"><use href="#DL" x="84"/></g><g id="k52-2"><use href="#LL" x="136"/></g><g id="k52-3"><use href="#LL" x="188"/></g><g id="k52-4"><use href="#LL" x="240"/></g><g id="k52-5"><use href="#LL" x="292"/></g><g id="k52-6"><use href="#LL" x="344"/></g><g id="k52-7"><use href="#LL" x="396"/></g><g id="k52-8"><use href="#LL" x="448"/></g><g id="k52-9"><use href="#LL" x="500"/></g><g id="k52-10"><use href="#LL" x="552"/></g><g id="k52-11"><use href="#LL" x="604"/></g><g id="k52-12"><use href="#DL" x="656"/></g></g>
<g id="row53" transform="translate(0,2766)"><g id="k53-1"><use href="#DR" x="84"/></g><g id="k53-2"><use href="#DR" x="136"/></g><g id="k53-3"><use href="#LR" x="188"/></g><g id="k53-4"><use href="#LR" x="240"/></g><g id="k53-5"><use href="#LR" x="292"/></g><g id="k53-6"><use href="#DR" x="344"/></g><g id="k53-7"><use href="#DR" x="396"/></g><g id="k53-8"><use href="#LR" x="448"/></g><g id="k53-9"><use href="#LR" x="500"/></g><g id="k53-10"><use href="#LR" x="552"/></g><g id="k53-11"><use href="#DR" x="604"/></g><g id="k53-12"><use href="#DR" x="656"/></g></g>
<g id="row54" transform="translate(0,2818)"><g id="k54-1"><use href="#DL" x="84"/></g><g id="k54-2"><use href="#DL" x="136"/></g><g id="k54-3"><use href="#DL" x="188"/></g><g id="k54-4"><use href="#DL" x="240"/></g><g id="k54-5"><use href="#DL" x="292"/></g><g id="k54-6"><use href="#DL" x="344"/></g><g id="k54-7"><use href="#DL" x="396"/></g><g id="k54-8"><use href="#DL" x="448"/></g><g id="k54-9"><use href="#DL" x="500"/></g><g id="k54-10"><use href="#DL" x="552"/></g><g id="k54-11"><use href="#DL" x="604"/></g><g id="k54-12"><use href="#DL" x="656"/></g></g>
</g>
<text class="wm" x="372" y="1445" text-anchor="middle">BRACELETBOOK.COM</text>
</svg>
